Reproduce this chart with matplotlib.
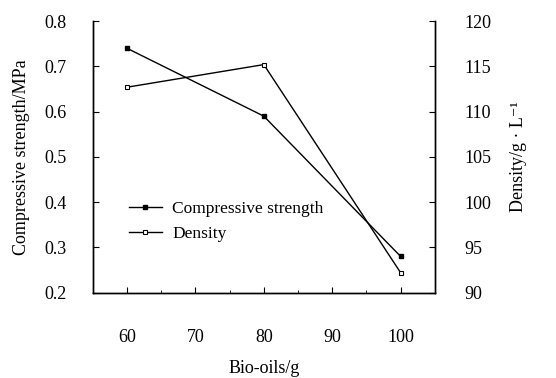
import matplotlib
matplotlib.use('Agg')
import matplotlib.pyplot as plt
from matplotlib.ticker import MultipleLocator

plt.rcParams['font.family'] = ['Liberation Serif', 'DejaVu Serif']
plt.rcParams['mathtext.fontset'] = 'stix'

bio_oils = [60, 80, 100]
strength = [0.74, 0.59, 0.28]
density = [112.7, 115.2, 92.2]

fig = plt.figure(figsize=(5.56, 3.78), dpi=100)
ax = fig.add_axes([0.167, 0.226, 0.615, 0.718])
ax2 = ax.twinx()

ax.plot(bio_oils, strength, color='black', lw=1, marker='s', ms=3.5,
        mfc='black', mec='black', label='Compressive strength')
ax2.plot(bio_oils, density, color='black', lw=1, marker='s', ms=3.5,
         mfc='white', mec='black', mew=0.8, label='Density')

ax.set_xlim(55, 105)
ax.set_ylim(0.2, 0.8)
ax2.set_ylim(90, 120)
ax.xaxis.set_major_locator(MultipleLocator(10))
ax.xaxis.set_minor_locator(MultipleLocator(5))
ax.yaxis.set_major_locator(MultipleLocator(0.1))
ax2.yaxis.set_major_locator(MultipleLocator(5))

for a in (ax, ax2):
    a.spines['top'].set_visible(False)
    for s in a.spines.values():
        s.set_linewidth(1)
ax.tick_params(axis='x', which='major', direction='in', length=4, pad=26, labelsize=13)
ax.tick_params(axis='x', which='minor', direction='in', length=2.5)
ax.tick_params(axis='y', direction='in', length=4, pad=19, labelsize=13)
ax2.tick_params(axis='y', direction='in', length=4, pad=21, labelsize=13)

ax.set_xlabel('Bio-oils/g', fontsize=13, labelpad=10)
ax.set_ylabel('Compressive strength/MPa', fontsize=13, labelpad=10)
ax2.set_ylabel('Density/g · L\u207b\u00b9', fontsize=13, labelpad=14)

h1, l1 = ax.get_legend_handles_labels()
h2, l2 = ax2.get_legend_handles_labels()
ax.legend(h1 + h2, l1 + l2, loc='lower left', bbox_to_anchor=(0.06, 0.13),
          frameon=False, fontsize=12.5, handlelength=1.9, handletextpad=0.6,
          labelspacing=0.5)

fig.savefig('out.png', dpi=100)
